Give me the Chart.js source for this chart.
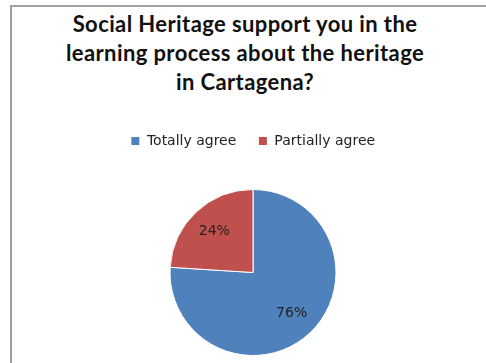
<!DOCTYPE html>
<html>
<head>
<meta charset="utf-8">
<script src="https://cdn.jsdelivr.net/npm/chart.js@4.4.0/dist/chart.umd.min.js"></script>
<style>
    body { margin: 0; background: #fff; }
    #wrap { position: relative; width: 486px; height: 363px; overflow: hidden; }
    #frame { position: absolute; left: 10px; top: 5px; width: 600px; height: 500px;
             border-left: 2px solid #a0a0a0; border-top: 2px solid #a0a0a0; }
    #title { position: absolute; left: 0; top: 9px; width: 490px; text-align: center;
             font: bold 22px Lato, sans-serif; line-height: 29px; letter-spacing: 0.4px; color: #111; }
    #myChart { position: absolute; left: 0; top: 0; }
</style>
</head>
<body>
<div id="wrap">
    <div id="frame"></div>
    <div id="title">Social Heritage support you in the<br>learning process about the heritage<br>in Cartagena?</div>
    <canvas id="myChart" width="486" height="363"></canvas>
</div>
<script>
const categories = ['Totally agree', 'Partially agree'];
const percents = [76, 24];
const colors = ['#4f81bd', '#c0504d'];

// percent text inside each slice
const sliceLabels = {
    id: 'sliceLabels',
    afterDatasetsDraw(chart) {
        const ctx = chart.ctx;
        const meta = chart.getDatasetMeta(0);
        ctx.save();
        ctx.font = '14px "DejaVu Sans", sans-serif';
        ctx.fillStyle = '#222';
        ctx.textAlign = 'center';
        ctx.textBaseline = 'middle';
        meta.data.forEach(function(arc, i) {
            const p = arc.getProps(['x', 'y', 'startAngle', 'endAngle', 'outerRadius'], true);
            const mid = (p.startAngle + p.endAngle) / 2;
            const r = p.outerRadius * 0.68;
            ctx.fillText(percents[i] + '%', p.x + Math.cos(mid) * r, p.y + Math.sin(mid) * r);
        });
        ctx.restore();
    }
};

// extra room under the legend
const legendGap = {
    id: 'legendGap',
    beforeInit(chart) {
        const fit = chart.legend.fit;
        chart.legend.fit = function() {
            fit.bind(chart.legend)();
            this.height += 31;
        };
    }
};

const ctx = document.getElementById('myChart');
// eslint-disable-next-line no-unused-vars
const myChart = new Chart(ctx, {
    type: 'pie',
    data: {
        labels: categories,
        datasets: [{
            data: percents,
            backgroundColor: colors,
            borderColor: '#fff',
            borderWidth: 1
        }]
    },
    options: {
        responsive: false,
        animation: false,
        layout: {
            padding: { top: 112, left: 20, right: 0, bottom: 7 }
        },
        plugins: {
            legend: {
                position: 'top',
                labels: {
                    boxWidth: 9,
                    boxHeight: 9,
                    padding: 22,
                    color: '#222',
                    font: { family: '"DejaVu Sans", sans-serif', size: 14 }
                }
            },
            tooltip: { enabled: false }
        }
    },
    plugins: [sliceLabels, legendGap]
});
</script>
</body>
</html>
